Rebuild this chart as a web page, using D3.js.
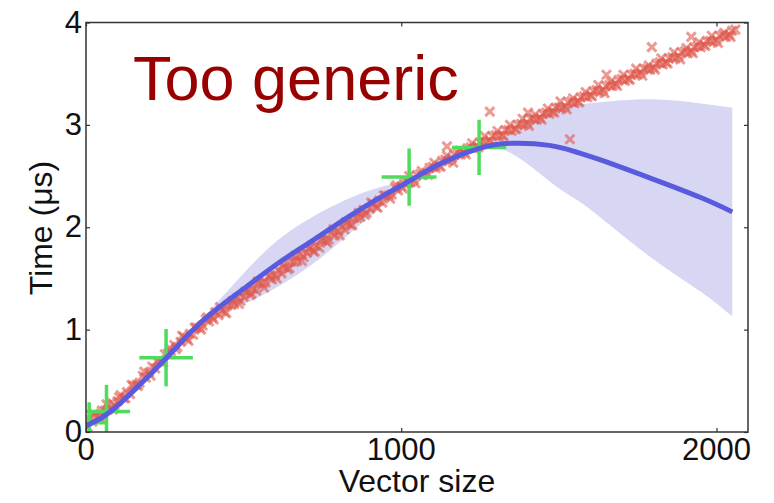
<!DOCTYPE html>
<html>
<head>
<meta charset="utf-8">
<script src="https://cdn.jsdelivr.net/npm/d3@7"></script>
<style>
  body { margin: 0; background: #fff; }
  text { font-family: "Liberation Sans", Arial, sans-serif; }
</style>
</head>
<body>
<script>
/* GP fit chart - "Too generic" */

// measured samples (vector size, time in us)
var samples = [
  [0,0.08],[10,0.13],[20,0.10],[30,0.16],[40,0.14],[50,0.21],[60,0.21],[70,0.22],[80,0.29],[90,0.26],
  [100,0.30],[110,0.36],[120,0.33],[130,0.39],[140,0.37],[150,0.45],[160,0.46],[170,0.48],[180,0.55],[190,0.53],
  [200,0.58],[210,0.64],[220,0.62],[230,0.69],[240,0.68],[250,0.76],[260,0.77],[270,0.79],[280,0.85],[290,0.83],
  [300,0.88],[310,0.93],[320,0.91],[330,0.96],[340,0.95],[350,1.02],[360,1.02],[370,1.04],[380,1.10],[390,1.08],
  [400,1.12],[410,1.17],[420,1.14],[430,1.19],[440,1.17],[450,1.24],[460,1.24],[470,1.25],[480,1.31],[490,1.28],
  [500,1.32],[510,1.37],[520,1.34],[530,1.40],[540,1.38],[550,1.45],[560,1.45],[570,1.46],[580,1.52],[590,1.49],
  [600,1.53],[610,1.58],[620,1.55],[630,1.61],[640,1.59],[650,1.66],[660,1.66],[670,1.67],[680,1.74],[690,1.71],
  [700,1.75],[710,1.80],[720,1.77],[730,1.82],[740,1.80],[750,1.87],[760,1.87],[770,1.88],[780,1.95],[790,1.92],
  [800,1.96],[810,2.01],[820,1.98],[830,2.04],[840,2.02],[850,2.09],[860,2.09],[870,2.10],[880,2.17],[890,2.14],
  [900,2.18],[910,2.23],[920,2.20],[930,2.26],[940,2.24],[950,2.31],[960,2.31],[970,2.32],[980,2.39],[990,2.36],
  [1000,2.40],[1010,2.43],[1020,2.44],[1030,2.44],[1040,2.46],[1050,2.51],[1060,2.52],[1070,2.51],[1080,2.53],[1090,2.58],
  [1100,2.59],[1110,2.58],[1120,2.60],[1130,2.65],[1140,2.66],[1150,2.65],[1160,2.67],[1170,2.71],[1180,2.72],[1190,2.71],
  [1200,2.73],[1210,2.77],[1220,2.78],[1230,2.77],[1240,2.79],[1250,2.83],[1260,2.84],[1270,2.83],[1280,2.85],[1290,2.89],
  [1300,2.90],[1310,2.89],[1320,2.90],[1330,2.95],[1340,2.95],[1350,2.94],[1360,2.96],[1370,3.00],[1380,3.01],[1390,3.00],
  [1400,3.02],[1410,3.06],[1420,3.06],[1430,3.05],[1440,3.07],[1450,3.11],[1460,3.12],[1470,3.11],[1480,3.13],[1490,3.17],
  [1500,3.17],[1510,3.16],[1520,3.18],[1530,3.22],[1540,3.23],[1550,3.21],[1560,3.23],[1570,3.27],[1580,3.28],[1590,3.27],
  [1600,3.29],[1610,3.33],[1620,3.34],[1630,3.32],[1640,3.34],[1650,3.38],[1660,3.39],[1670,3.38],[1680,3.40],[1690,3.44],
  [1700,3.45],[1710,3.43],[1720,3.45],[1730,3.49],[1740,3.50],[1750,3.49],[1760,3.51],[1770,3.55],[1780,3.55],[1790,3.54],
  [1800,3.56],[1810,3.60],[1820,3.61],[1830,3.59],[1840,3.61],[1850,3.65],[1860,3.66],[1870,3.65],[1880,3.67],[1890,3.71],
  [1900,3.72],[1910,3.70],[1920,3.72],[1930,3.76],[1940,3.77],[1950,3.76],[1960,3.78],[1970,3.82],[1980,3.82],[1990,3.81],
  [2000,3.83],[2010,3.87],[2020,3.88],[2030,3.86],[2040,3.88],[2050,3.92],[2060,3.93]
];
// second pass of measurements (repeat runs)
var samples2 = [
  [5,0.05],[25,0.18],[45,0.15],[65,0.27],[85,0.22],[105,0.34],[125,0.33],[145,0.46],[165,0.45],[185,0.59],
  [205,0.55],[225,0.69],[245,0.68],[265,0.82],[285,0.81],[305,0.94],[325,0.89],[345,1.02],[365,1.00],[385,1.12],
  [405,1.10],[425,1.22],[445,1.16],[465,1.28],[485,1.25],[505,1.37],[525,1.35],[545,1.47],[565,1.41],[585,1.53],
  [605,1.50],[625,1.63],[645,1.60],[665,1.72],[685,1.67],[705,1.79],[725,1.76],[745,1.88],[765,1.85],[785,1.98],
  [805,1.92],[825,2.05],[845,2.02],[865,2.14],[885,2.12],[905,2.24],[925,2.19],[945,2.31],[965,2.28],[985,2.41],
  [1005,2.38],[1025,2.50],[1045,2.43],[1065,2.55],[1085,2.51],[1105,2.63],[1125,2.59],[1145,2.70],[1165,2.63],[1185,2.75],
  [1205,2.71],[1225,2.82],[1245,2.78],[1265,2.89],[1285,2.83],[1305,2.94],[1325,2.89],[1345,3.00],[1365,2.96],[1385,3.06],
  [1405,2.99],[1425,3.10],[1445,3.05],[1465,3.16],[1485,3.12],[1505,3.23],[1525,3.15],[1545,3.26],[1565,3.22],[1585,3.32],
  [1605,3.28],[1625,3.39],[1645,3.31],[1665,3.42],[1685,3.38],[1705,3.49],[1725,3.44],[1745,3.55],[1765,3.48],[1785,3.58],
  [1805,3.54],[1825,3.65],[1845,3.60],[1865,3.71],[1885,3.64],[1905,3.75],[1925,3.70],[1945,3.81],[1965,3.77],[1985,3.87],
  [2005,3.80],[2025,3.90],[2045,3.86]
];
var outliers = [[1145,2.79],[1281,3.13],[1402,3.12],[1535,2.86],[1651,3.49],[1795,3.76],[1920,3.86]];

// training points with error bars
var obsX    = [10, 65, 254, 1025, 1247];
var obsY    = [0.09, 0.20, 0.726, 2.49, 2.78];
var obsXErr = [55, 75, 85, 87, 86];
var obsYErr = [0.20, 0.26, 0.28, 0.28, 0.27];

// GP prediction: mean and confidence band
var gpX     = [0, 60, 140, 254, 330, 404, 509, 615, 721, 826, 932, 1025, 1130, 1247, 1350, 1470, 1550, 1630, 1790, 1950, 2050];
var gpMean  = [0.06, 0.16, 0.37, 0.72, 0.97, 1.175, 1.42, 1.66, 1.875, 2.09, 2.29, 2.45, 2.63, 2.77, 2.82, 2.80, 2.74, 2.66, 2.48, 2.29, 2.15];
var gpUpper = [0.07, 0.17, 0.38, 0.73, 0.99, 1.225, 1.58, 1.89, 2.105, 2.27, 2.39, 2.48, 2.68, 2.79, 2.92, 3.15, 3.20, 3.22, 3.25, 3.21, 3.17];
var gpLower = [0.05, 0.15, 0.36, 0.71, 0.95, 1.125, 1.26, 1.43, 1.645, 1.91, 2.19, 2.42, 2.58, 2.75, 2.72, 2.45, 2.28, 2.10, 1.71, 1.37, 1.13];

var xTicks = [0, 1000, 2000];
var yTicks = [0, 1, 2, 3, 4];

var pL = 86, pR = 748, pT = 22.5, pB = 432;

var svg = d3.select("body").append("svg")
    .attr("width", 774)
    .attr("height", 503);

svg.append("rect").attr("width", 774).attr("height", 503).attr("fill", "#fff");

var x = d3.scaleLinear().domain([0, 2100]).range([pL, pR]);
var y = d3.scaleLinear().domain([0, 4]).range([pB, pT]);

svg.append("clipPath").attr("id", "plot")
    .append("rect")
    .attr("x", pL).attr("y", pT)
    .attr("width", pR - pL).attr("height", pB - pT);

var plot = svg.append("g").attr("clip-path", "url(#plot)");

var gp = gpX.map(function(d, i) {
    return { x: d, m: gpMean[i], hi: gpUpper[i], lo: gpLower[i] };
});

// confidence band
plot.append("path")
    .datum(gp)
    .attr("fill", "#d7d7f4")
    .attr("d", d3.area()
        .curve(d3.curveNatural)
        .x(function(d) { return x(d.x); })
        .y0(function(d) { return y(d.lo); })
        .y1(function(d) { return y(d.hi); }));

// samples as x markers
var s = 4.5;
function cross(d) {
    var cx = x(d[0]), cy = y(d[1]);
    return "M" + (cx - s) + "," + (cy - s) + "L" + (cx + s) + "," + (cy + s) +
           "M" + (cx - s) + "," + (cy + s) + "L" + (cx + s) + "," + (cy - s);
}
plot.selectAll("path.sample")
    .data(samples.concat(samples2, outliers))
    .enter()
    .append("path")
    .attr("class", "sample")
    .attr("d", cross)
    .attr("stroke", "#e0584d")
    .attr("stroke-opacity", 0.6)
    .attr("stroke-width", 3)
    .attr("fill", "none");

// training points with error bars
var obs = obsX.map(function(d, i) {
    return { x: d, y: obsY[i], ex: obsXErr[i], ey: obsYErr[i] };
});
var eb = plot.selectAll("g.obs")
    .data(obs)
    .enter()
    .append("g")
    .attr("class", "obs");
eb.append("line")
    .attr("x1", function(d) { return x(d.x - d.ex); })
    .attr("x2", function(d) { return x(d.x + d.ex); })
    .attr("y1", function(d) { return y(d.y); })
    .attr("y2", function(d) { return y(d.y); });
eb.append("line")
    .attr("x1", function(d) { return x(d.x); })
    .attr("x2", function(d) { return x(d.x); })
    .attr("y1", function(d) { return y(d.y - d.ey); })
    .attr("y2", function(d) { return y(d.y + d.ey); });
eb.selectAll("line")
    .attr("stroke", "#4fdc5c")
    .attr("stroke-width", 3.5);

// GP mean
plot.append("path")
    .datum(gp)
    .attr("fill", "none")
    .attr("stroke", "#5a5ade")
    .attr("stroke-width", 5)
    .attr("d", d3.line()
        .curve(d3.curveNatural)
        .x(function(d) { return x(d.x); })
        .y(function(d) { return y(d.m); }));

// frame
svg.append("rect")
    .attr("x", pL).attr("y", pT)
    .attr("width", pR - pL).attr("height", pB - pT)
    .attr("fill", "none")
    .attr("stroke", "#333")
    .attr("stroke-width", 1.5);

// ticks, inward on all sides
svg.append("g")
    .attr("transform", "translate(0," + pB + ")")
    .call(d3.axisBottom(x).tickValues(xTicks).tickSize(-4).tickFormat(""))
    .call(function(g) { g.select(".domain").remove(); });
svg.append("g")
    .attr("transform", "translate(0," + pT + ")")
    .call(d3.axisTop(x).tickValues(xTicks).tickSize(-4).tickFormat(""))
    .call(function(g) { g.select(".domain").remove(); });
svg.append("g")
    .attr("transform", "translate(" + pL + ",0)")
    .call(d3.axisLeft(y).tickValues(yTicks).tickSize(-4).tickFormat(""))
    .call(function(g) { g.select(".domain").remove(); });
svg.append("g")
    .attr("transform", "translate(" + pR + ",0)")
    .call(d3.axisRight(y).tickValues(yTicks).tickSize(-4).tickFormat(""))
    .call(function(g) { g.select(".domain").remove(); });
svg.selectAll(".tick line").attr("stroke", "#333").attr("stroke-width", 1.2);

// tick labels
svg.selectAll("text.xl")
    .data(xTicks)
    .enter()
    .append("text")
    .attr("class", "xl")
    .attr("x", function(d) { return x(d); })
    .attr("y", 460)
    .attr("text-anchor", "middle")
    .attr("font-size", 31)
    .attr("fill", "#111")
    .text(function(d) { return d; });

svg.selectAll("text.yl")
    .data(yTicks)
    .enter()
    .append("text")
    .attr("class", "yl")
    .attr("x", 82)
    .attr("y", function(d) { return y(d) + 10; })
    .attr("text-anchor", "end")
    .attr("font-size", 31)
    .attr("fill", "#111")
    .text(function(d) { return d; });

// axis titles
svg.append("text")
    .attr("x", 417)
    .attr("y", 492)
    .attr("text-anchor", "middle")
    .attr("font-size", 32)
    .attr("fill", "#111")
    .text("Vector size");

svg.append("text")
    .attr("transform", "translate(52,228) rotate(-90)")
    .attr("text-anchor", "middle")
    .attr("font-size", 32)
    .attr("fill", "#111")
    .text("Time (μs)");

// annotation
svg.append("text")
    .attr("x", 133)
    .attr("y", 100)
    .attr("font-size", 63)
    .attr("fill", "#990000")
    .text("Too generic");
</script>
</body>
</html>
